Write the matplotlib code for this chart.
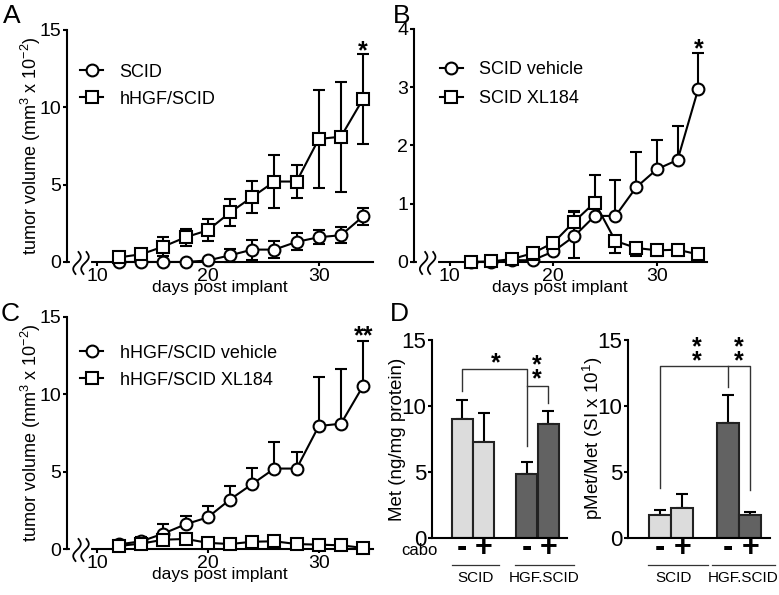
import numpy as np
import matplotlib
matplotlib.use("Agg")
import matplotlib.pyplot as plt
from matplotlib import font_manager
from matplotlib.lines import Line2D
from matplotlib.transforms import IdentityTransform, blended_transform_factory

plt.rcParams['font.family'] = ['Liberation Sans', 'DejaVu Sans']
plt.rcParams['mathtext.fontset'] = 'custom'
plt.rcParams['mathtext.rm'] = 'Liberation Sans'

installed = {f.name for f in font_manager.fontManager.ttflist}
NARROW = ['Liberation Sans Narrow'] if 'Liberation Sans Narrow' in installed else ['Liberation Sans']

# ---- data ----
days = [12, 14, 16, 18, 20, 22, 24, 26, 28, 30, 32, 34]

# panel A
a_scid = [0, 0, 0, 0, 0.1, 0.43, 0.8, 0.8, 1.3, 1.6, 1.73, 2.95]
a_scid_err = [0.05, 0.05, 0.05, 0.05, 0.1, 0.4, 0.65, 0.55, 0.55, 0.45, 0.5, 0.55]
a_hgf = [0.3, 0.5, 1.0, 1.6, 2.05, 3.2, 4.2, 5.2, 5.2, 7.95, 8.1, 10.55]
a_hgf_err = [0.2, 0.25, 0.6, 0.55, 0.7, 0.85, 1.05, 1.7, 1.05, 3.15, 3.55, 2.9]

# panel B
b_veh = [0, 0, 0.03, 0.03, 0.18, 0.44, 0.79, 0.79, 1.28, 1.59, 1.75, 2.97]
b_veh_up = [0, 0, 0, 0, 0.05, 0.42, 0, 0.62, 0.61, 0.51, 0.58, 0.62]
b_veh_lo = [0, 0, 0, 0, 0.05, 0.37, 0, 0, 0, 0, 0, 0]
b_xl = [0, 0.01, 0.05, 0.15, 0.33, 0.69, 1.02, 0.36, 0.24, 0.2, 0.21, 0.13]
b_xl_up = [0, 0, 0, 0, 0, 0.19, 0.47, 0, 0, 0, 0, 0]
b_xl_lo = [0, 0, 0, 0.12, 0, 0, 0, 0.2, 0.14, 0.1, 0.11, 0.11]

# panel C
c_veh = [0.3, 0.5, 1.0, 1.6, 2.05, 3.2, 4.2, 5.2, 5.2, 7.95, 8.1, 10.55]
c_veh_up = [0.2, 0.25, 0.6, 0.55, 0.7, 0.85, 1.05, 1.7, 1.05, 3.15, 3.55, 2.9]
c_xl = [0.2, 0.35, 0.6, 0.65, 0.4, 0.32, 0.47, 0.5, 0.32, 0.28, 0.24, 0.07]

# panel D
cabo = ['-', '+', '-', '+']
groups = ['SCID', 'HGF.SCID']
met = [9.0, 7.3, 4.85, 8.6]
met_err = [1.45, 2.2, 0.9, 1.0]
pmet = [1.75, 2.24, 8.7, 1.75]
pmet_err = [0.39, 1.12, 2.1, 0.21]
bar_x = [0, 1, 3, 4]
bar_colors = ['#dcdcdc', '#dcdcdc', '#626262', '#626262']

LW = 1.5


def style_axes(ax, fs):
    for s in ['top', 'right']:
        ax.spines[s].set_visible(False)
    for s in ['left', 'bottom']:
        ax.spines[s].set_linewidth(LW)
    ax.tick_params(direction='out', length=3, width=LW, labelsize=fs, pad=1)


def axis_break(ax, xpix):
    x0, y0 = ax.transAxes.transform((0, 0))
    ax.add_line(Line2D([x0 + xpix, x0 + xpix + 17], [y0, y0], transform=IdentityTransform(),
                       color='white', lw=3, clip_on=False, zorder=5))
    s = np.linspace(-1, 1, 40)
    for dx in (xpix + 5, xpix + 13):
        xs = x0 + dx + 3 * np.sin(np.pi * s) + 1.5 * s
        ys = y0 - 1 + 11 * s
        ax.add_line(Line2D(xs, ys, transform=IdentityTransform(), color='black',
                           lw=1.3, clip_on=False, zorder=6))


def series(ax, y, lo, up, marker, z):
    ax.errorbar(days, y, yerr=[lo, up], fmt='none', ecolor='black', elinewidth=LW,
                capsize=4, capthick=LW, zorder=z, clip_on=False)
    ax.plot(days, y, '-', color='black', lw=LW, marker=marker, ms=8.5, mfc='white',
            mec='black', mew=LW, zorder=z + 0.5, clip_on=False)


def legend(ax, labels, x, y, spacing=0.55):
    h = [Line2D([], [], color='black', lw=LW, marker=m, ms=8.5, mfc='white', mew=LW)
         for m in ('o', 's')]
    ax.legend(h, labels, loc='upper left', bbox_to_anchor=(x, y), frameon=False,
              fontsize=13, handlelength=1.3, handletextpad=0.9, labelspacing=spacing,
              borderpad=0, borderaxespad=0)


def line_panel(ax, ylim, yticks):
    style_axes(ax, 14)
    ax.set_ylim(*ylim)
    ax.set_yticks(yticks)
    ax.set_xticks([10, 20, 30])
    ax.set_xlabel('days post implant', fontsize=12.5, labelpad=-3)


fig = plt.figure(figsize=(7.79, 5.95), dpi=100)

ylab = 'tumor volume (mm$^3$ x 10$^{-2}$)'

# A
axA = fig.add_axes([0.086, 0.5597, 0.393, 0.390])
line_panel(axA, (0, 15), [0, 5, 10, 15])
axA.set_xlim(7.3, 34.9)
series(axA, a_scid, a_scid_err, a_scid_err, 'o', 3)
series(axA, a_hgf, a_hgf_err, a_hgf_err, 's', 4)
axA.set_ylabel(ylab, fontsize=13, labelpad=-2.5)
legend(axA, ['SCID', 'hHGF/SCID'], 0.042, 0.855)
axA.text(34, 13.65, '*', fontsize=18, fontweight='bold', ha='center', va='center')

# B
axB = fig.add_axes([0.531, 0.5597, 0.376, 0.392])
line_panel(axB, (0, 4), [0, 1, 2, 3, 4])
axB.set_xlim(6.5, 34.8)
series(axB, b_veh, b_veh_lo, b_veh_up, 'o', 3)
series(axB, b_xl, b_xl_lo, b_xl_up, 's', 4)
legend(axB, ['SCID vehicle', 'SCID XL184'], 0.089, 0.86, spacing=0.65)
axB.text(34, 3.64, '*', fontsize=18, fontweight='bold', ha='center', va='center')

# C
axC = fig.add_axes([0.086, 0.0773, 0.393, 0.390])
line_panel(axC, (0, 15), [0, 5, 10, 15])
axC.set_xlim(7.3, 34.9)
zeros = [0] * len(days)
series(axC, c_veh, zeros, c_veh_up, 'o', 3)
series(axC, c_xl, zeros, zeros, 's', 4)
axC.set_ylabel(ylab, fontsize=13, labelpad=-2.5)
legend(axC, ['hHGF/SCID vehicle', 'hHGF/SCID XL184'], 0.042, 0.88)
axC.text(34, 13.75, '**', fontsize=18, fontweight='bold', ha='center', va='center')


def bar_panel(ax, vals, errs, ylabel, labelpad, lines, centers):
    style_axes(ax, 16)
    ax.bar(bar_x, vals, width=0.97, color=bar_colors, edgecolor='#222222', linewidth=LW, zorder=2)
    ax.errorbar(bar_x, vals, yerr=[[0] * 4, errs], fmt='none', ecolor='black',
                elinewidth=LW, capsize=4, capthick=LW, zorder=1)
    ax.set_ylim(0, 15)
    ax.set_yticks([0, 5, 10, 15])
    ax.set_xlim(-1.4, 4.85)
    ax.set_xticks([])
    ax.set_ylabel(ylabel, fontsize=13.5, labelpad=labelpad)
    tr = blended_transform_factory(ax.transData, ax.transAxes)
    for x, c in zip(bar_x, cabo):
        ax.text(x, -0.05, c, transform=tr, fontsize=22, fontweight='bold',
                ha='center', va='center')
    for (x1, x2), xc, g in zip(lines, centers, groups):
        ax.add_line(Line2D([x1, x2], [-0.135, -0.135], transform=tr, color='#333333',
                           lw=0.9, clip_on=False))
        ax.text(xc, -0.2, g, transform=tr, fontsize=11, ha='center', va='center',
                family=NARROW + ['DejaVu Sans'])
    return tr


def bracket(ax, xs, ys, lw=1.0):
    ax.plot(xs, ys, color='#333333', lw=lw, zorder=3, clip_on=False)


# D left
axD1 = fig.add_axes([0.5546, 0.0958, 0.173, 0.333])
tr1 = bar_panel(axD1, met, met_err, 'Met (ng/mg protein)', -3.5,
                [(-0.46, 1.7), (2.44, 5.2)], [0.6, 3.8])
bracket(axD1, [0, 0, 3, 3], [11.1, 12.8, 12.8, 7.0])
bracket(axD1, [3, 4, 4], [11.5, 11.5, 10.2])
axD1.text(1.55, 13.2, '*', fontsize=18, fontweight='bold', ha='center', va='center')
axD1.text(3.45, 13.1, '*', fontsize=18, fontweight='bold', ha='center', va='center')
axD1.text(3.45, 12.0, '*', fontsize=18, fontweight='bold', ha='center', va='center')
axD1.text(-1.15, -0.065, 'cabo', transform=tr1, fontsize=12, ha='right', va='center')

# D right
axD2 = fig.add_axes([0.806, 0.0958, 0.182, 0.333])
bar_panel(axD2, pmet, pmet_err, 'pMet/Met (SI x 10$^1$)', -5.5,
          [(-0.5, 2.14), (2.33, 5.07)], [0.6, 3.67])
bracket(axD2, [0, 0, 4, 4], [3.8, 13.0, 13.0, 3.6])
bracket(axD2, [3, 3], [13.0, 11.4])
for x in (1.63, 3.5):
    axD2.text(x, 14.45, '*', fontsize=18, fontweight='bold', ha='center', va='center')
    axD2.text(x, 13.35, '*', fontsize=18, fontweight='bold', ha='center', va='center')

# breaks on the line panels
fig.canvas.draw()
axis_break(axA, 5)
axis_break(axB, 5)
axis_break(axC, 5)

# panel letters
for x, y, l in [(3, 4, 'A'), (393, 4, 'B'), (1, 302, 'C'), (390, 302, 'D')]:
    fig.text(x / 779, 1 - y / 595, l, fontsize=19, ha='left', va='top')

fig.savefig('out.png', dpi=100)
